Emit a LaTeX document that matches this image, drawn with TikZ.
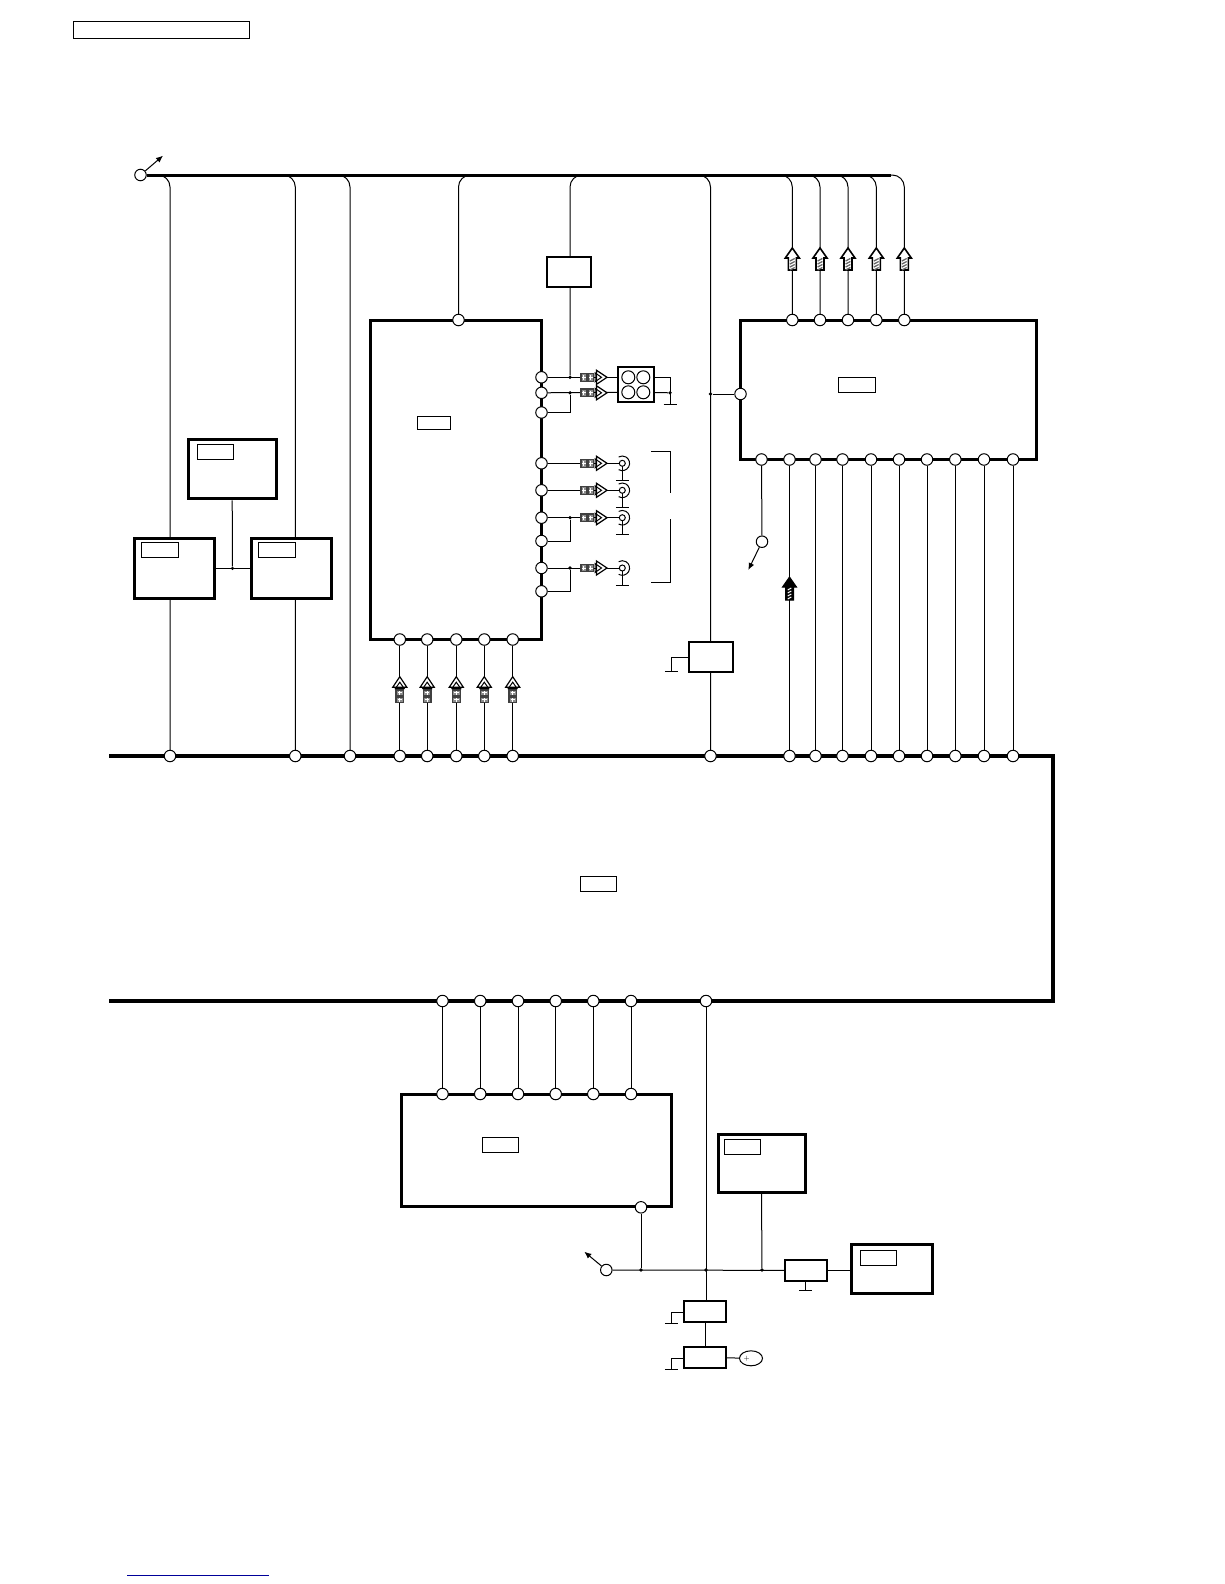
\documentclass[tikz,border=0pt]{standalone}
\usepackage{xcolor}
\usetikzlibrary{arrows.meta,backgrounds,shapes.geometric}
\definecolor{linkblue}{HTML}{000099}
\tikzset{
  chip/.style={
    rectangle,
    draw=black,
    fill=white,
    line width=3pt,
    inner sep=0pt
  },
  smallchip/.style={
    rectangle,
    draw=black,
    fill=white,
    line width=2pt,
    inner sep=0pt,
    minimum width=42pt,
    minimum height=21pt
  },
  tagbox/.style={
    rectangle,
    draw=black,
    fill=white,
    line width=1pt,
    inner sep=0pt,
    minimum width=36.5pt,
    minimum height=15pt
  },
  term/.style={circle, draw=black, fill=white, line width=1pt, inner sep=0pt, minimum size=11.5pt},
  hole/.style={circle, draw=black, fill=white, line width=1pt, inner sep=0pt, minimum size=13pt},
  jackpin/.style={circle, draw=black, fill=white, line width=1pt, inner sep=0pt, minimum size=6pt},
  dot/.style={circle, fill=black, inner sep=0pt, minimum size=3.6pt},
  cell/.style={ellipse, draw=black, line width=1pt, inner sep=0pt, minimum width=23pt, minimum height=15pt},
  wire/.style={line width=1pt, draw=black},
  curvewire/.style={line width=1pt, draw=black, rounded corners=12pt},
  busline/.style={line width=3pt, draw=black},
  boardline/.style={line width=4pt, draw=black},
  pointer/.style={-{Latex[length=7pt,width=6pt]}, line width=1pt, draw=black},
  ground/.pic={\draw[line width=1pt] (-6.5,0) -- (6.5,0);},
  sigout/.pic={
    \draw[line width=1.2pt, draw=black!75, fill=black!45] (-13,-3.8) rectangle (-7.3,3.8);
    \draw[line width=1pt, white] (-10.2,-2.2) -- (-10.2,2.2);
    \draw[line width=1pt, white] (-12,0) -- (-8.4,0);
    \draw[line width=1.2pt, draw=black!75, fill=black!45] (-6,-3.8) rectangle (-.3,3.8);
    \draw[line width=1pt, white] (-3.2,-2.2) -- (-3.2,2.2);
    \draw[line width=1pt, white] (-5,0) -- (-1.4,0);
    \draw[line width=1.2pt, fill=white] (2.5,-7) -- (13,0) -- (2.5,7) -- cycle;
    \draw[line width=1pt] (1,-4.5) -- (7.5,0) -- (1,4.5) -- cycle;
  },
  hatchup/.pic={
    \draw[line width=1.6pt, fill=white] (0,0) -- (7,10) -- (4,10) -- (4,22) -- (-4,22) -- (-4,10) -- (-7,10) -- cycle;
    \draw[line width=1.3pt, black!60] (-2.4,13) -- (2.4,10.5);
    \draw[line width=1.3pt, black!60] (-2.4,16) -- (2.4,13.5);
    \draw[line width=1.3pt, black!60] (-2.4,19) -- (2.4,16.5);
    \draw[line width=1.3pt, black!60] (-2.4,22) -- (2.4,19.5);
  },
  hatchdown/.pic={
    \draw[line width=1pt, fill=black] (0,0) -- (7,10) -- (4,10) -- (4,23) -- (-4,23) -- (-4,10) -- (-7,10) -- cycle;
    \draw[line width=1pt, white] (-1.8,13) -- (1.8,11);
    \draw[line width=1pt, white] (-1.8,16) -- (1.8,14);
    \draw[line width=1pt, white] (-1.8,19) -- (1.8,17);
    \draw[line width=1pt, white] (-1.8,22) -- (1.8,20);
  },
  jack/.pic={
    \draw[line width=1pt] (120:7.3) arc[start angle=120, end angle=-120, radius=7.3];
    \draw[line width=1pt] (0,3) -- (0,17);
    \draw[line width=1pt] (-6.5,17) -- (6.5,17);
  }
}

\begin{document}
\begin{tikzpicture}[x=1pt,y=-1pt]
  \useasboundingbox (0,0) rectangle (1224,1584);

  \node[tagbox, minimum width=176.5pt, minimum height=17pt] (pagetag) at (161.5,29.8) {};

  % main board, open on its left side
  \coordinate (boardtl) at (109,756);
  \coordinate (boardtr) at (1052.5,756);
  \coordinate (boardbr) at (1052.5,1001);
  \coordinate (boardbl) at (109,1001);
  \draw[boardline] (boardtl) -- (boardtr) -- (boardbr) -- (boardbl);
  \node[tagbox] (boardtag) at (598.5,884.3) {};

  % blocks
  \node[chip, minimum width=171pt, minimum height=319pt] (avchip) at (456,479.5) {};
  \node[tagbox, minimum width=33pt, minimum height=12.5pt] (avtag) at (433.5,423.2) {};
  \node[chip, minimum width=296pt, minimum height=139.5pt] (drvchip) at (888.5,389.8) {};
  \node[tagbox] (drvtag) at (856.8,384.5) {};
  \node[chip, minimum width=269.5pt, minimum height=112.5pt] (pwrchip) at (536.7,1150.7) {};
  \node[tagbox] (pwrtag) at (500.5,1144.8) {};

  \node[chip, minimum width=88pt, minimum height=59.5pt] (tuner) at (232.2,469) {};
  \node[tagbox] (tunertag) at (215.3,451.8) {};
  \node[chip, minimum width=80pt, minimum height=60pt] (lmod) at (174.2,568.3) {};
  \node[tagbox] (lmodtag) at (160,549.5) {};
  \node[chip, minimum width=79.5pt, minimum height=60pt] (rmod) at (291.3,568.3) {};
  \node[tagbox] (rmodtag) at (276.8,549.5) {};

  \node[chip, minimum width=87pt, minimum height=58pt] (upmod) at (761.5,1163) {};
  \node[tagbox] (upmodtag) at (742.5,1147) {};
  \node[chip, minimum width=81pt, minimum height=49pt] (farmod) at (891.5,1268.5) {};
  \node[tagbox] (farmodtag) at (878.3,1257.8) {};

  \node[chip, line width=2pt, minimum width=44pt, minimum height=30.5pt] (fusebox) at (568.5,271.8) {};
  \node[chip, line width=2pt, minimum width=44pt, minimum height=30.5pt] (regbox) at (711,657) {};
  \node[smallchip] (chargea) at (705.2,1311.4) {};
  \node[smallchip] (chargeb) at (705.2,1357.4) {};
  \node[smallchip] (standby) at (805.8,1270.4) {};
  \node[cell] (battery) at (751,1358.3) {};
  \node[inner sep=0pt, font=\scriptsize] (batplus) at (746.7,1358.3) {+};

  % connector with four holes
  \node[chip, line width=2pt, minimum width=36pt, minimum height=35.6pt] (quad) at (635.7,384.5) {};
  \node[hole] (holea) at (628.3,377.3) {};
  \node[hole] (holeb) at (643.3,377.3) {};
  \node[hole] (holec) at (628.3,392.3) {};
  \node[hole] (holed) at (643.3,392.3) {};

  % jacks
  \node[jackpin] (jacka) at (622.3,463.3) {};
  \node[jackpin] (jackb) at (622.3,490.3) {};
  \node[jackpin] (jackc) at (622.3,517.7) {};
  \node[jackpin] (jackd) at (622.3,568) {};
  \pic at (622.3,463.3) {jack};
  \pic at (622.3,490.3) {jack};
  \pic at (622.3,517.7) {jack};
  \pic at (622.3,568) {jack};

  % terminals
  \node[term] (vin) at (140.5,175) {};
  \node[term] (avtop) at (458.5,320) {};
  \node[term] (avra) at (541.5,377.3) {};
  \node[term] (avrb) at (541.5,392.8) {};
  \node[term] (avrc) at (541.5,412.5) {};
  \node[term] (avrd) at (541.5,463.3) {};
  \node[term] (avre) at (541.5,490.3) {};
  \node[term] (avrf) at (541.5,517.7) {};
  \node[term] (avrg) at (541.5,541) {};
  \node[term] (avrh) at (541.5,568) {};
  \node[term] (avri) at (541.5,591.3) {};
  \node[term] (avba) at (399.8,639.5) {};
  \node[term] (avbb) at (427.2,639.5) {};
  \node[term] (avbc) at (456.3,639.5) {};
  \node[term] (avbd) at (484.3,639.5) {};
  \node[term] (avbe) at (512.7,639.5) {};

  \node[term] (drvta) at (792.3,320) {};
  \node[term] (drvtb) at (820,320) {};
  \node[term] (drvtc) at (848,320) {};
  \node[term] (drvtd) at (876.3,320) {};
  \node[term] (drvte) at (904.3,320) {};
  \node[term] (drvl) at (740.5,394) {};
  \node[term] (drvba) at (761.5,459.5) {};
  \node[term] (drvbb) at (789.5,459.5) {};
  \node[term] (drvbc) at (815.5,459.5) {};
  \node[term] (drvbd) at (842.5,459.5) {};
  \node[term] (drvbe) at (871,459.5) {};
  \node[term] (drvbf) at (899,459.5) {};
  \node[term] (drvbg) at (927,459.5) {};
  \node[term] (drvbh) at (955.3,459.5) {};
  \node[term] (drvbi) at (984,459.5) {};
  \node[term] (drvbj) at (1013,459.5) {};
  \node[term] (audout) at (762,541.7) {};

  \node[term] (boarda) at (170,756) {};
  \node[term] (boardb) at (295.3,756) {};
  \node[term] (boardc) at (350,756) {};
  \node[term] (boardd) at (399.8,756) {};
  \node[term] (boarde) at (427.2,756) {};
  \node[term] (boardf) at (456.3,756) {};
  \node[term] (boardg) at (484.3,756) {};
  \node[term] (boardh) at (512.7,756) {};
  \node[term] (boardj) at (710.5,756) {};
  \node[term] (boardk) at (789.5,756) {};
  \node[term] (boardl) at (815.5,756) {};
  \node[term] (boardm) at (842.5,756) {};
  \node[term] (boardn) at (871,756) {};
  \node[term] (boardo) at (899,756) {};
  \node[term] (boardp) at (927,756) {};
  \node[term] (boardq) at (955.3,756) {};
  \node[term] (boardr) at (984,756) {};
  \node[term] (boards) at (1013,756) {};

  \node[term] (lowa) at (442.5,1001) {};
  \node[term] (lowb) at (480.2,1001) {};
  \node[term] (lowc) at (518,1001) {};
  \node[term] (lowd) at (555.7,1001) {};
  \node[term] (lowe) at (593.3,1001) {};
  \node[term] (lowf) at (631,1001) {};
  \node[term] (lowg) at (706,1001) {};
  \node[term] (pwrta) at (442.5,1094) {};
  \node[term] (pwrtb) at (480.2,1094) {};
  \node[term] (pwrtc) at (518,1094) {};
  \node[term] (pwrtd) at (555.7,1094) {};
  \node[term] (pwrte) at (593.3,1094) {};
  \node[term] (pwrtf) at (631,1094) {};
  \node[term] (pwrbt) at (641,1207.3) {};
  \node[term] (swout) at (606.3,1270) {};

  % junctions
  \node[dot] (juna) at (570,377.3) {};
  \node[dot] (junb) at (570,392.8) {};
  \node[dot] (junc) at (570,517.7) {};
  \node[dot] (jund) at (570,568) {};
  \node[dot] (jung) at (670,392.8) {};
  \node[dot] (junl) at (710.5,394) {};
  \node[dot] (junm) at (232.5,568.3) {};
  \node[dot] (junp) at (641,1270) {};
  \node[dot] (junv) at (706,1270) {};
  \node[dot] (junw) at (762,1270) {};

  % free ends
  \coordinate (busend) at (891,175);
  \coordinate (vintip) at (163,155.7);
  \coordinate (audtip) at (748.3,570);
  \coordinate (swtip) at (584.3,1251.7);
  \coordinate (taka) at (158,175);
  \coordinate (takb) at (283,175);
  \coordinate (takc) at (338,175);
  \coordinate (takd) at (470,175);
  \coordinate (take) at (582,175);
  \coordinate (takf) at (698,175);
  \coordinate (takg) at (780,175);
  \coordinate (takh) at (808,175);
  \coordinate (takj) at (836,175);
  \coordinate (takk) at (864,175);
  \coordinate (gndq) at (670,404.3);
  \coordinate (gndr) at (671.3,671.3);
  \coordinate (gnda) at (671.3,1323.3);
  \coordinate (gndb) at (671.3,1369.3);
  \coordinate (gnds) at (805.8,1290);
  \coordinate (bracka) at (651.3,451.3);
  \coordinate (brackb) at (670.3,451.3);
  \coordinate (brackc) at (670.3,493.3);
  \coordinate (brackd) at (670.3,519);
  \coordinate (bracke) at (670.3,582.7);
  \coordinate (brackf) at (651.3,582.7);
  \coordinate (rulea) at (127,1575.3);
  \coordinate (ruleb) at (269,1575.3);

  \pic at (gndq) {ground};
  \pic at (gndr) {ground};
  \pic at (gnda) {ground};
  \pic at (gndb) {ground};
  \pic at (gnds) {ground};

  \begin{scope}[on background layer]
    \draw[busline] (vin) -- (busend);
    \draw[curvewire] (taka) -| (boarda);
    \draw[curvewire] (takb) -| (boardb);
    \draw[curvewire] (takc) -| (boardc);
    \draw[curvewire] (takd) -| (avtop);
    \draw[curvewire] (take) -| (juna);
    \draw[curvewire] (takf) -| (boardj);
    \draw[curvewire] (takg) -| (drvta);
    \draw[curvewire] (takh) -| (drvtb);
    \draw[curvewire] (takj) -| (drvtc);
    \draw[curvewire] (takk) -| (drvtd);
    \draw[curvewire] (busend) -| (drvte);

    \draw[wire] (tuner.south) -- (junm);
    \draw[wire] (lmod.east) -- (rmod.west);

    \draw[wire] (avra) -- (holea);
    \draw[wire] (avrb) -- (holec);
    \draw[wire] (junb) |- (avrc);
    \draw[wire] (holeb) -| (gndq);
    \draw[wire] (holed) -- (jung);
    \draw[wire] (avrd) -- (jacka);
    \draw[wire] (avre) -- (jackb);
    \draw[wire] (avrf) -- (jackc);
    \draw[wire] (junc) |- (avrg);
    \draw[wire] (avrh) -- (jackd);
    \draw[wire] (jund) |- (avri);
    \draw[wire] (bracka) -- (brackb) -- (brackc);
    \draw[wire] (brackd) -- (bracke) -- (brackf);

    \draw[wire] (avba) -- (boardd);
    \draw[wire] (avbb) -- (boarde);
    \draw[wire] (avbc) -- (boardf);
    \draw[wire] (avbd) -- (boardg);
    \draw[wire] (avbe) -- (boardh);

    \draw[wire] (junl) -- (drvl);
    \draw[wire] (regbox.west) -| (gndr);
    \draw[wire] (drvba) -- (audout);
    \draw[wire] (drvbb) -- (boardk);
    \draw[wire] (drvbc) -- (boardl);
    \draw[wire] (drvbd) -- (boardm);
    \draw[wire] (drvbe) -- (boardn);
    \draw[wire] (drvbf) -- (boardo);
    \draw[wire] (drvbg) -- (boardp);
    \draw[wire] (drvbh) -- (boardq);
    \draw[wire] (drvbi) -- (boardr);
    \draw[wire] (drvbj) -- (boards);

    \draw[wire] (lowa) -- (pwrta);
    \draw[wire] (lowb) -- (pwrtb);
    \draw[wire] (lowc) -- (pwrtc);
    \draw[wire] (lowd) -- (pwrtd);
    \draw[wire] (lowe) -- (pwrte);
    \draw[wire] (lowf) -- (pwrtf);
    \draw[wire] (lowg) -- (lowg |- chargea.north);
    \draw[wire] (chargea) -- (chargeb);
    \draw[wire] (chargeb) -- (battery);
    \draw[wire] (chargea.west |- gnda) ++(0,-11) -| (gnda);
    \draw[wire] (chargeb.west |- gndb) ++(0,-11) -| (gndb);
    \draw[wire] (pwrbt) -- (junp);
    \draw[wire] (swout) -- (standby);
    \draw[wire] (standby) -- (standby -| farmod.west);
    \draw[wire] (upmod.south) -- (junw);
    \draw[wire] (standby) -- (gnds);
  \end{scope}

  \draw[pointer] (vin) -- (vintip);
  \draw[pointer] (audout) -- (audtip);
  \draw[pointer] (swout) -- (swtip);

  % signal marks
  \pic at (792.3,248) {hatchup};
  \pic at (820,248) {hatchup};
  \pic at (848,248) {hatchup};
  \pic at (876.3,248) {hatchup};
  \pic at (904.3,248) {hatchup};
  \pic at (789.5,577) {hatchdown};

  \pic at (594,377.3) {sigout};
  \pic at (594,392.8) {sigout};
  \pic at (594,463.3) {sigout};
  \pic at (594,490.3) {sigout};
  \pic at (594,517.7) {sigout};
  \pic at (594,568) {sigout};
  \pic[rotate=90] at (399.8,689.7) {sigout};
  \pic[rotate=90] at (427.2,689.7) {sigout};
  \pic[rotate=90] at (456.3,689.7) {sigout};
  \pic[rotate=90] at (484.3,689.7) {sigout};
  \pic[rotate=90] at (512.7,689.7) {sigout};

  \draw[line width=1pt, linkblue] (rulea) -- (ruleb);
\end{tikzpicture}
\end{document}
